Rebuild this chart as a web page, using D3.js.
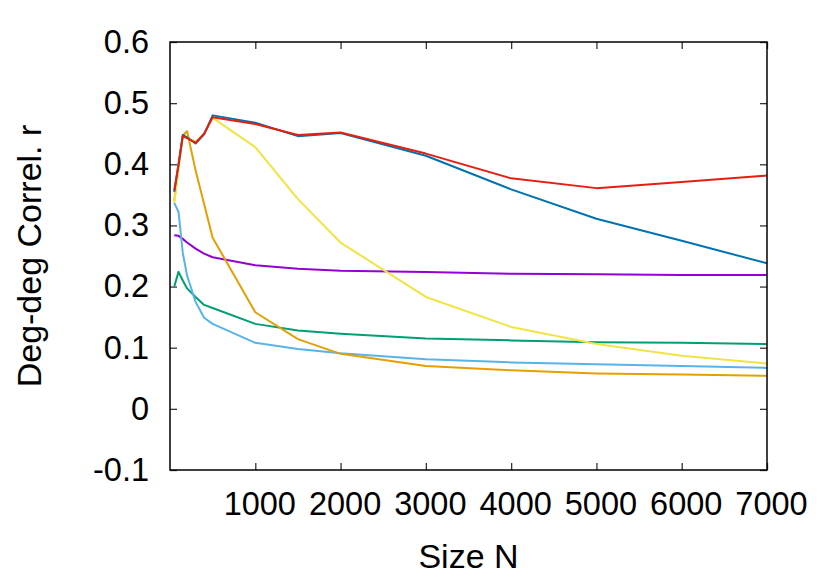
<!DOCTYPE html>
<html lang="en">
<head>
<meta charset="UTF-8">
<title>Deg-deg Correl. r</title>
<style>
  body { margin: 0; background: #fff; }
  svg text { font-family: "Liberation Sans", Arial, Helvetica, sans-serif; fill: #000; }
</style>
</head>
<body>
<div id="chart"></div>
<script src="https://cdn.jsdelivr.net/npm/d3@7"></script>
<script>
// sizes N shared by every series
var sizes = [50, 100, 150, 200, 300, 400, 500, 1000, 1500, 2000, 3000, 4000, 5000, 6000, 7000];

// one array per curve
var purple   = [0.284, 0.283, 0.278, 0.272, 0.262, 0.254, 0.248, 0.235, 0.229, 0.226, 0.224, 0.221, 0.220, 0.219, 0.219];
var green    = [0.200, 0.224, 0.210, 0.197, 0.183, 0.170, 0.165, 0.139, 0.128, 0.123, 0.115, 0.112, 0.109, 0.108, 0.106];
var skyblue  = [0.337, 0.322, 0.255, 0.218, 0.175, 0.149, 0.139, 0.108, 0.098, 0.091, 0.081, 0.076, 0.073, 0.070, 0.067];
var orange   = [0.340, 0.395, 0.447, 0.454, 0.390, 0.335, 0.280, 0.158, 0.114, 0.090, 0.070, 0.063, 0.058, 0.056, 0.054];
var yellow   = [0.337, 0.392, 0.447, 0.443, 0.437, 0.450, 0.476, 0.428, 0.343, 0.272, 0.183, 0.134, 0.106, 0.087, 0.074];
var blue     = [0.355, 0.400, 0.448, 0.444, 0.434, 0.449, 0.480, 0.468, 0.446, 0.451, 0.414, 0.359, 0.311, 0.275, 0.238];
var red      = [0.357, 0.400, 0.446, 0.443, 0.435, 0.450, 0.477, 0.466, 0.448, 0.452, 0.4175, 0.377, 0.361, 0.371, 0.3815];

var xTicks = [1000, 2000, 3000, 4000, 5000, 6000, 7000];
var yTicks = [-0.1, 0, 0.1, 0.2, 0.3, 0.4, 0.5, 0.6];

var series = [
    {values: purple,  color: "#9400d3"},
    {values: green,   color: "#009e73"},
    {values: skyblue, color: "#56b4e9"},
    {values: orange,  color: "#e69f00"},
    {values: yellow,  color: "#f0e442"},
    {values: blue,    color: "#0072b2"},
    {values: red,     color: "#e51e10"}
];

var width = 830, height = 581, margin = {t: 42, r: 63, b: 111, l: 170};
var w = width - margin.l - margin.r, h = height - margin.t - margin.b;

var x = d3.scaleLinear().domain([0, 7000]).range([0, w]);
var y = d3.scaleLinear().domain([-0.1, 0.6]).range([h, 0]);

var svg = d3.select("#chart").append("svg")
    .attr("width", width).attr("height", height);
var g = svg.append("g").attr("transform", "translate(" + margin.l + "," + margin.t + ")");

// gnuplot style labels: plain hyphen for negatives, bare 0
var fmtY = function(d) { return d === 0 ? "0" : d.toFixed(1); };

// left axis with labels, ticks pointing inward
var yAxis = g.append("g")
    .call(d3.axisLeft(y).tickValues(yTicks).tickSizeInner(-7).tickSizeOuter(0).tickPadding(21).tickFormat(fmtY));
// right mirror
g.append("g").attr("transform", "translate(" + w + ",0)")
    .call(d3.axisRight(y).tickValues(yTicks).tickSizeInner(-7).tickSizeOuter(0).tickFormat(""));
// bottom axis
var xAxis = g.append("g").attr("transform", "translate(0," + h + ")")
    .call(d3.axisBottom(x).tickValues(xTicks).tickSizeInner(-7).tickSizeOuter(0).tickPadding(22).tickFormat(d3.format("d")));
// top mirror
g.append("g")
    .call(d3.axisTop(x).tickValues(xTicks).tickSizeInner(-7).tickSizeOuter(0).tickFormat(""));

g.selectAll(".domain").remove();
g.selectAll(".tick line").attr("stroke", "#333").attr("stroke-width", 1.3);
g.selectAll(".tick text").attr("font-size", 32.5).attr("font-family", "Liberation Sans, Arial, sans-serif");
xAxis.selectAll(".tick text").attr("dx", 4);

// curves
var line = d3.line()
    .x(function(d, i) { return x(sizes[i]); })
    .y(function(d) { return y(d); });

g.selectAll("path.curve").data(series).enter().append("path")
    .attr("class", "curve")
    .attr("d", function(s) { return line(s.values); })
    .attr("fill", "none")
    .attr("stroke", function(s) { return s.color; })
    .attr("stroke-width", 2)
    .attr("stroke-linejoin", "round");

// frame
g.append("rect").attr("width", w).attr("height", h)
    .attr("fill", "none").attr("stroke", "#000").attr("stroke-width", 1.5);

// axis titles
svg.append("text")
    .attr("transform", "translate(41," + (margin.t + h / 2) + ") rotate(-90)")
    .attr("text-anchor", "middle")
    .attr("font-size", 34)
    .text("Deg-deg Correl. r");

svg.append("text")
    .attr("x", margin.l + w / 2).attr("y", 568)
    .attr("text-anchor", "middle")
    .attr("font-size", 34)
    .text("Size N");
</script>
</body>
</html>
